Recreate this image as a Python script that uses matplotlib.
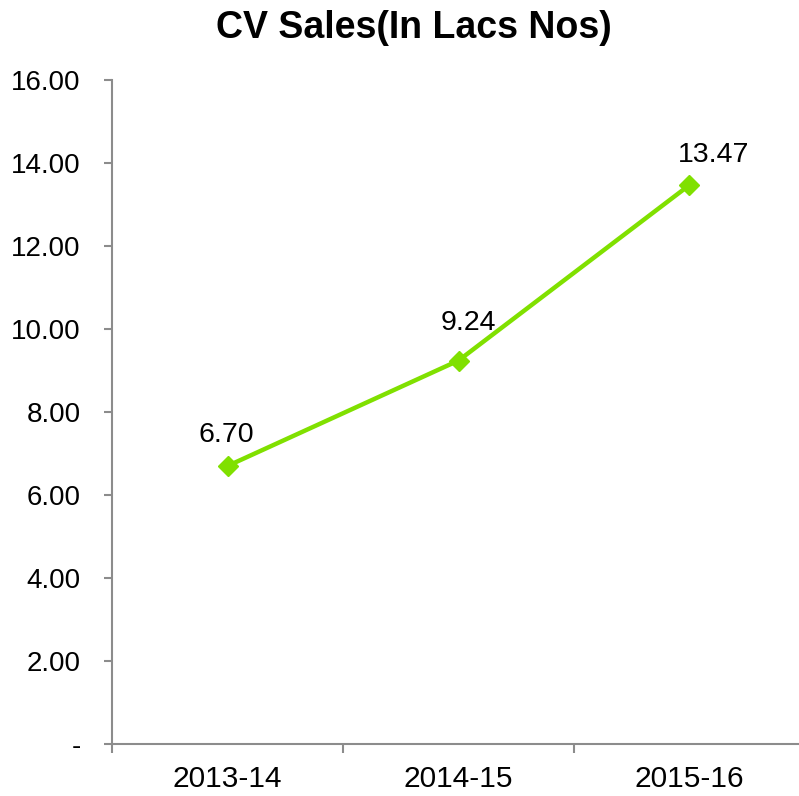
import matplotlib

matplotlib.use("Agg")
import matplotlib.pyplot as plt
from matplotlib.ticker import FixedLocator

plt.rcParams["font.family"] = ["Liberation Sans", "DejaVu Sans"]

years = ["2013-14", "2014-15", "2015-16"]
sales = [6.70, 9.24, 13.47]
yticks = [0, 2, 4, 6, 8, 10, 12, 14, 16]

# label nudges (points) relative to each marker, as placed in the original
label_dx = [-1, 7, 17]
label_dy = [17, 22, 16.5]

LINE = "#80E000"
AXIS = "#8C8C8C"

fig = plt.figure(figsize=(7.99, 7.96), dpi=100)
ax = fig.add_axes([0.1402, 0.0653, 0.8673, 0.8342])

x = list(range(len(years)))
ax.plot(x, sales, color=LINE, lw=3.2, marker="D", ms=10.5, mec=LINE, mfc=LINE, zorder=3)
for xi, v, dx, dy in zip(x, sales, label_dx, label_dy):
    ax.annotate(f"{v:.2f}", (xi, v), xytext=(dx, dy), textcoords="offset points",
                ha="center", va="baseline", fontsize=20.5)

ax.set_xlim(-0.5, len(years) - 0.5)
ax.set_ylim(0, 16)
ax.set_xticks(x)
ax.set_xticklabels(years, fontsize=21.5)
ax.xaxis.set_minor_locator(FixedLocator([i - 0.5 for i in range(len(years) + 1)]))
ax.tick_params(axis="x", which="major", length=0, pad=15)
ax.tick_params(axis="x", which="minor", length=6.5, color=AXIS, width=1.5)
ax.set_yticks(yticks)
ax.set_yticklabels(["-" if t == 0 else f"{t:.2f}" for t in yticks], fontsize=20)
ax.tick_params(axis="y", length=5.5, color=AXIS, width=1.5, pad=17)

for s in ["top", "right"]:
    ax.spines[s].set_visible(False)
for s in ["left", "bottom"]:
    ax.spines[s].set_color(AXIS)
    ax.spines[s].set_linewidth(1.5)

fig.text(0.518, 0.952, "CV Sales(In Lacs Nos)", ha="center", va="baseline",
         fontsize=27, fontweight="bold")

fig.savefig("out.png", dpi=100)
